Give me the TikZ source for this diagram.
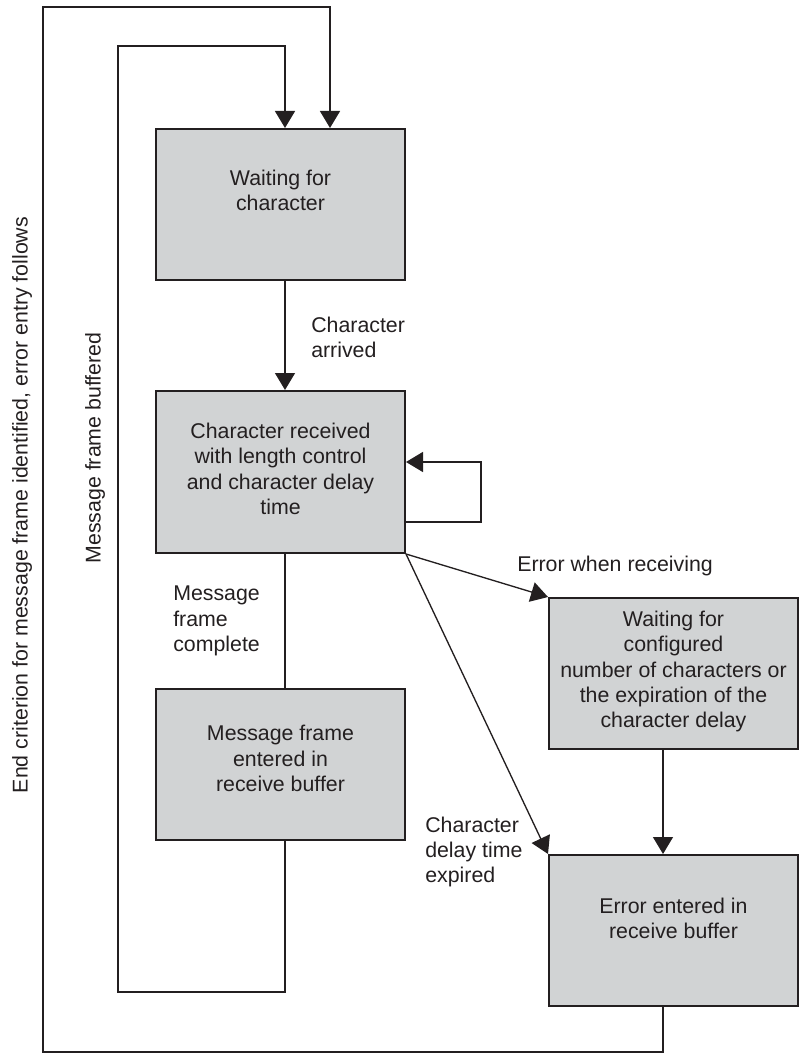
\documentclass[tikz,border=0pt]{standalone}
\usepackage{fontspec}
\setmainfont{Liberation Sans}
\usetikzlibrary{arrows.meta,calc}
\definecolor{boxfill}{RGB}{209,211,212}
\definecolor{ink}{RGB}{35,31,32}
\begin{document}
\begin{tikzpicture}[x=0.75pt,y=-0.75pt,
  every node/.style={font=\fontsize{16}{19}\selectfont, text=ink},
  state/.style={draw=ink, line width=1.5pt, fill=boxfill, minimum width=186.75pt, minimum height=113.25pt, inner sep=0pt},
  boxtext/.style={align=center, inner sep=0pt},
  conn/.style={draw=ink, line width=1pt},
  arr/.style={conn, -{Triangle[width=15pt,length=12.75pt]}},
  lbl/.style={align=left, inner sep=0pt, anchor=west}]
\useasboundingbox (0,0) rectangle (805,1059);

% states
\node[state] (b1) at (280.5,204.5) {};
\node[state, minimum height=121.5pt] (b2) at (280.5,472) {};
\node[state] (b3) at (280.5,764.5) {};
\node[state] (b4) at (673.5,673.5) {};
\node[state] (b5) at (673.5,930.5) {};

% state texts
\node[boxtext] (t1) at ($(b1.center)+(0,-14)$) {Waiting for\\character};
\node[boxtext] (t2) at ($(b2.center)+(0,-3)$) {Character received\\with length control\\and character delay\\time};
\node[boxtext] (t3) at ($(b3.center)+(0,-6)$) {Message frame\\entered in\\receive buffer};
\node[boxtext] (t4) at ($(b4.center)+(0,-2)$) {Waiting for\\configured\\number of characters or\\the expiration of the\\character delay};
\node[boxtext] (t5) at ($(b5.center)+(0,-12)$) {Error entered in\\receive buffer};

% helper coordinates
\coordinate (xl) at (285,0);
\coordinate (xr) at (663,0);
\coordinate (ob) at (43,1052);
\coordinate (ot) at (330,7);
\coordinate (ib) at (118,992);
\coordinate (it) at (285,46);
\coordinate (sa) at (481,522);
\coordinate (sb) at (481,462);

% connectors
\draw[arr] (b1.south -| xl) -- (b2.north -| xl);
\draw[conn] (b2.south -| xl) -- (b3.north -| xl);
\draw[arr] (b2.east |- sa) -- (sa) -- (sb) -- (b2.east |- sb);
\draw[arr] (b2.south east) -- (b4.north west);
\draw[arr] (b2.south east) -- (b5.north west);
\draw[arr] (b4.south -| xr) -- (b5.north -| xr);
\draw[arr] (b3.south -| it) |- (ib) |- (it) -- (b1.north -| it);
\draw[arr] (b5.south -| xr) |- (ob) |- (ot) -- (b1.north -| ot);

% labels
\node[lbl] (l1) at (311,337.5) {Character\\arrived};
\node[lbl] (l2) at (173,621) {Message\\frame\\complete};
\node[lbl] (l3) at (517,566) {Error when receiving};
\node[lbl] (l4) at (425,852) {Character\\delay time\\expired};
\node[inner sep=0pt, rotate=90] (l5) at (22,505) {End criterion for message frame identified, error entry follows};
\node[inner sep=0pt, rotate=90] (l6) at (95,448) {Message frame buffered};
\end{tikzpicture}
\end{document}
